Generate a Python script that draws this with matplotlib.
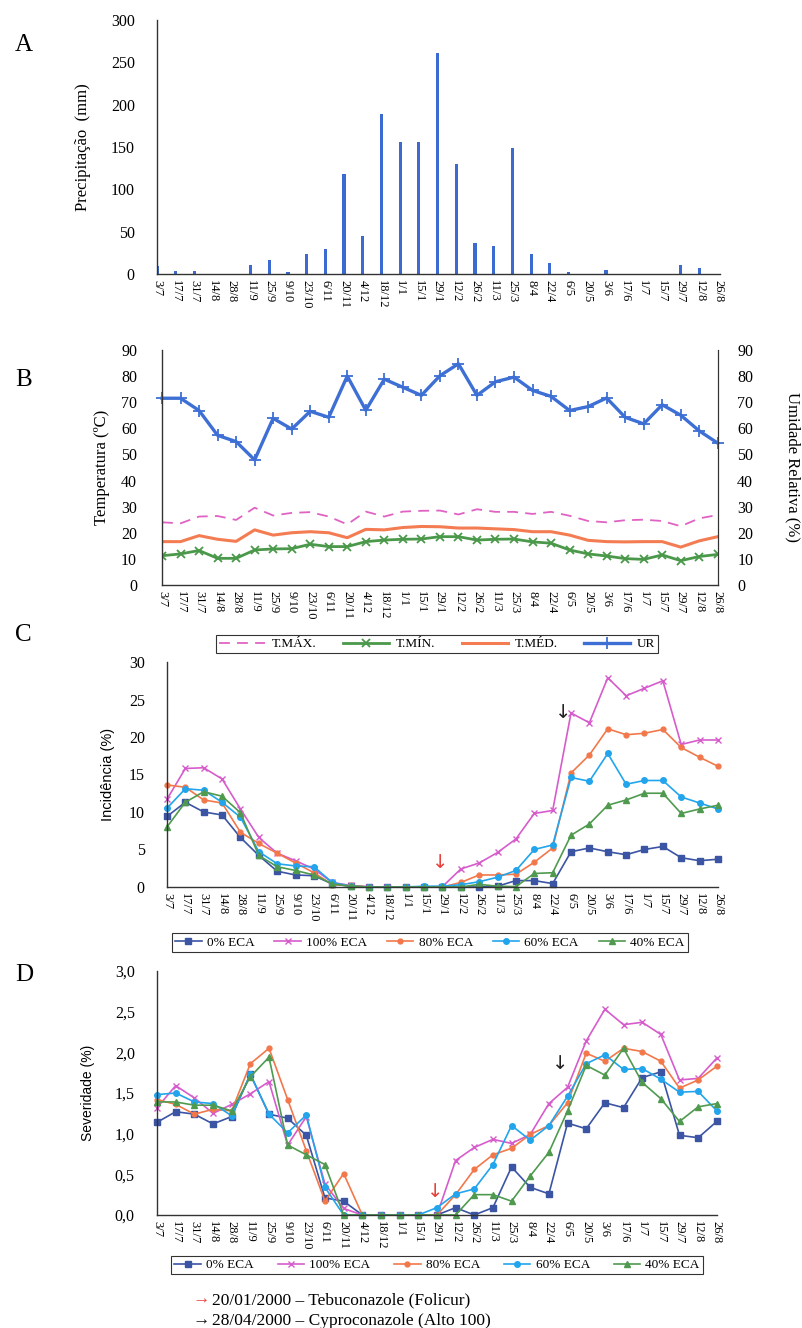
import matplotlib
matplotlib.use('Agg')
import matplotlib.pyplot as plt
import numpy as np
from matplotlib.ticker import FuncFormatter

plt.rcParams['font.family'] = ['Liberation Serif', 'DejaVu Serif']

# dates (biweekly sampling)
datas = ['3/7', '17/7', '31/7', '14/8', '28/8', '11/9', '25/9', '9/10', '23/10', '6/11',
         '20/11', '4/12', '18/12', '1/1', '15/1', '29/1', '12/2', '26/2', '11/3', '25/3',
         '8/4', '22/4', '6/5', '20/5', '3/6', '17/6', '1/7', '15/7', '29/7', '12/8', '26/8']

# A - precipitation (mm)
precip = [9, 4, 3, 0, 0, 10, 16, 2, 23, 30, 118, 45, 189, 156, 156, 261, 130, 37, 33, 149,
          24, 13, 2, 0, 5, 0, 0, 0, 11, 7, 0]

# B - temperature and relative humidity
ur = [71.5, 71.5, 66.8, 57.3, 54.9, 47.9, 63.8, 59.7, 66.5, 64.2, 80.0, 66.9, 78.8, 75.7, 72.6,
      80.1, 84.7, 72.6, 77.8, 79.6, 74.5, 72.2, 66.8, 68.3, 71.6, 64.2, 61.7, 69.0, 65.0, 59.0, 54.3]
t_max = [24.0, 23.6, 26.2, 26.4, 24.9, 29.6, 26.6, 27.6, 27.9, 26.2, 23.2, 28.1, 26.2, 28.1, 28.4,
         28.5, 27.0, 29.0, 28.0, 28.0, 27.2, 28.0, 26.5, 24.5, 24.0, 24.8, 25.0, 24.5, 22.5, 25.5, 26.8]
t_med = [16.6, 16.6, 18.9, 17.5, 16.7, 21.1, 19.1, 20.0, 20.4, 20.0, 18.1, 21.3, 21.1, 22.0, 22.4,
         22.3, 21.8, 21.8, 21.5, 21.2, 20.4, 20.4, 19.1, 17.1, 16.6, 16.5, 16.6, 16.6, 14.5, 16.9, 18.5]
t_min = [11.2, 11.9, 13.2, 10.2, 10.2, 13.4, 13.8, 13.9, 15.6, 14.7, 14.7, 16.6, 17.2, 17.5, 17.6,
         18.5, 18.5, 17.2, 17.5, 17.6, 16.5, 16.0, 13.4, 11.9, 11.1, 10.1, 9.8, 11.5, 9.3, 10.9, 11.7]

# C - incidence (%)
inc_0 = [9.4, 11.3, 10.0, 9.6, 6.6, 4.2, 2.1, 1.6, 1.5, 0.4, 0.1, 0, 0, 0, 0, 0, 0, 0, 0.1, 0.85,
         0.85, 0.45, 4.7, 5.2, 4.7, 4.3, 5.0, 5.4, 3.9, 3.5, 3.7]
inc_100 = [11.7, 15.8, 15.9, 14.4, 10.4, 6.6, 4.5, 3.5, 2.4, 0.6, 0.2, 0, 0, 0, 0, 0.05, 2.4, 3.2,
           4.6, 6.4, 9.8, 10.2, 23.2, 21.9, 27.9, 25.5, 26.5, 27.5, 19.0, 19.6, 19.6]
inc_80 = [13.6, 13.3, 11.6, 11.2, 7.3, 5.8, 4.5, 3.2, 1.9, 0.3, 0.2, 0, 0, 0, 0, 0, 0.6, 1.6, 1.6,
          1.7, 3.3, 5.2, 15.2, 17.6, 21.1, 20.3, 20.5, 21.0, 18.6, 17.3, 16.1]
inc_60 = [10.5, 13.1, 12.9, 11.3, 9.3, 4.7, 3.1, 2.8, 2.7, 0.6, 0.1, 0, 0, 0, 0.1, 0.1, 0.3, 0.7,
          1.3, 2.2, 5.0, 5.6, 14.6, 14.1, 17.8, 13.7, 14.2, 14.2, 12.0, 11.2, 10.4]
inc_40 = [8.0, 11.3, 12.7, 12.1, 9.9, 4.2, 2.7, 2.2, 1.6, 0.4, 0.1, 0, 0, 0, 0, 0, 0, 0.35, 0.1,
          0.05, 1.8, 1.9, 6.9, 8.4, 10.9, 11.6, 12.5, 12.5, 9.8, 10.4, 10.9]

# D - severity (%)
sev_0 = [1.14, 1.27, 1.24, 1.12, 1.21, 1.73, 1.24, 1.19, 0.98, 0.21, 0.17, 0, 0, 0, 0, 0, 0.09, 0,
         0.09, 0.59, 0.34, 0.26, 1.13, 1.06, 1.38, 1.32, 1.69, 1.76, 0.98, 0.95, 1.15]
sev_100 = [1.32, 1.59, 1.44, 1.25, 1.36, 1.49, 1.64, 0.86, 1.21, 0.38, 0.08, 0, 0, 0, 0, 0, 0.67,
           0.83, 0.93, 0.88, 0.99, 1.37, 1.57, 2.14, 2.53, 2.34, 2.37, 2.22, 1.66, 1.68, 1.93]
sev_80 = [1.42, 1.36, 1.24, 1.30, 1.28, 1.86, 2.05, 1.42, 0.79, 0.17, 0.51, 0, 0, 0, 0, 0, 0.25,
          0.56, 0.74, 0.82, 0.99, 1.10, 1.38, 1.99, 1.89, 2.05, 2.01, 1.89, 1.56, 1.66, 1.83]
sev_60 = [1.48, 1.50, 1.39, 1.37, 1.22, 1.73, 1.24, 1.01, 1.23, 0.34, 0, 0, 0, 0, 0, 0.09, 0.26,
          0.32, 0.62, 1.10, 0.92, 1.10, 1.46, 1.86, 1.97, 1.79, 1.80, 1.67, 1.51, 1.52, 1.28]
sev_40 = [1.39, 1.39, 1.35, 1.35, 1.28, 1.70, 1.94, 0.86, 0.74, 0.62, 0, 0, 0, 0, 0, 0, 0, 0.25,
          0.25, 0.17, 0.48, 0.77, 1.28, 1.84, 1.72, 2.05, 1.63, 1.43, 1.15, 1.33, 1.37]

trat_labels = ['0% ECA', '100% ECA', '80% ECA', '60% ECA', '40% ECA']

# application dates (position on the date axis)
aplic_1 = 14.9   # 20/01/2000
aplic_2 = 21.6   # 28/04/2000

x = np.arange(len(datas))

C_DARK = '#3b54a3'
C_PINK = '#d65ccc'
C_ORNG = '#f2784b'
C_LBLU = '#22a5ec'
C_GREN = '#4f9a4f'
SPINE = '#333333'


def base_axes(ax, x_right=30.0):
    ax.set_xlim(0, x_right)
    ax.set_xticks(x)
    ax.set_xticklabels(datas, rotation=270, fontsize=9)
    ax.tick_params(axis='x', length=0, pad=4)
    ax.tick_params(axis='y', length=0, labelsize=11.5)
    for s in ['top', 'right']:
        ax.spines[s].set_visible(False)
    for s in ['left', 'bottom']:
        ax.spines[s].set_color(SPINE)
        ax.spines[s].set_linewidth(1.0)


def treat_lines(ax, series):
    styles = [(C_DARK, 's', 4.0), (C_PINK, 'x', 4.5), (C_ORNG, 'o', 3.5),
              (C_LBLU, 'o', 4.0), (C_GREN, '^', 4.5)]
    handles = []
    for vals, (col, mk, ms), lab in zip(series, styles, trat_labels):
        h, = ax.plot(x, vals, color=col, marker=mk, ms=ms, lw=1.2,
                     mew=1.0, label=lab, clip_on=False)
        handles.append(h)
    return handles


fig = plt.figure(figsize=(8.02, 13.28), dpi=100)

# ---- A
axA = fig.add_axes([0.1958, 0.7937, 0.702, 0.1913])
axA.bar(x, precip, width=0.17, color='#3b6bd0')
base_axes(axA, 30.1)
axA.set_ylim(0, 300)
axA.set_yticks(range(0, 301, 50))
axA.tick_params(axis='y', pad=16)
axA.set_ylabel('Precipitação  (mm)', fontsize=12, labelpad=14)

# ---- B
axB = fig.add_axes([0.202, 0.5595, 0.693, 0.177])
base_axes(axB)
axB.spines['right'].set_visible(True)
axB.spines['right'].set_color(SPINE)
axB.plot(x, t_max, color='#e063c4', lw=1.3, ls=(0, (6, 4)), label='T.MÁX.')
axB.plot(x, t_min, color='#4a984a', lw=2.0, marker='x', ms=6, mew=1.3, label='T.MÍN.')
axB.plot(x, t_med, color='#f47c52', lw=2.2, label='T.MÉD.')
axB.plot(x, ur, color='#3d6fd4', lw=2.4, marker='+', ms=8, mew=1.3, label='UR', clip_on=False)
axB.set_ylim(0, 90)
axB.set_yticks(range(0, 91, 10))
axB.tick_params(axis='y', pad=18)
axB.set_ylabel('Temperatura (ºC)', fontsize=12, labelpad=8)
axB2 = axB.twinx()
axB2.set_ylim(0, 90)
axB2.set_yticks(range(0, 91, 10))
axB2.tick_params(axis='y', length=0, labelsize=11.5, pad=14)
for s in ['top', 'left', 'bottom']:
    axB2.spines[s].set_visible(False)
axB2.spines['right'].set_color(SPINE)
axB2.set_ylabel('Umidade Relativa (%)', fontsize=12, rotation=270, labelpad=34)
legB = fig.legend(*axB.get_legend_handles_labels(), loc='center', ncol=4,
                  bbox_to_anchor=(0.545, 0.515), fontsize=9.5, frameon=True, fancybox=False,
                  edgecolor='black', handlelength=3.5, columnspacing=2.0, borderpad=0.25,
                  handletextpad=0.5)
legB.get_frame().set_linewidth(0.8)

# ---- C
axC = fig.add_axes([0.2082, 0.3321, 0.687, 0.1694])
base_axes(axC)
hC = treat_lines(axC, [inc_0, inc_100, inc_80, inc_60, inc_40])
axC.set_ylim(0, 30)
axC.set_yticks(range(0, 31, 5))
axC.tick_params(axis='y', pad=16)
axC.set_ylabel('Incidência (%)', fontsize=10.5, family=['Liberation Sans', 'DejaVu Sans'],
               labelpad=10)
axC.text(aplic_1, 3.3, '↓', color='#e8403a', fontsize=14, ha='center', va='center',
         family=['DejaVu Sans'])
axC.text(aplic_2, 23.3, '↓', color='#222222', fontsize=14, ha='center', va='center',
         family=['DejaVu Sans'])
legC = fig.legend(hC, trat_labels, loc='center', ncol=5, bbox_to_anchor=(0.536, 0.290),
                  fontsize=9.5, frameon=True, fancybox=False, edgecolor='black',
                  handlelength=2.0, columnspacing=1.5, borderpad=0.25, handletextpad=0.4)
legC.get_frame().set_linewidth(0.8)

# ---- D
axD = fig.add_axes([0.1958, 0.0851, 0.698, 0.1837])
base_axes(axD)
hD = treat_lines(axD, [sev_0, sev_100, sev_80, sev_60, sev_40])
axD.set_ylim(0, 3.0)
axD.set_yticks(np.arange(0, 3.01, 0.5))
axD.yaxis.set_major_formatter(FuncFormatter(lambda v, p: f'{v:.1f}'.replace('.', ',')))
axD.tick_params(axis='y', pad=16)
axD.set_ylabel('Severidade (%)', fontsize=10, family=['Liberation Sans', 'DejaVu Sans'],
               labelpad=14)
axD.text(aplic_1, 0.29, '↓', color='#e8403a', fontsize=14, ha='center', va='center',
         family=['DejaVu Sans'])
axD.text(aplic_2, 1.86, '↓', color='#222222', fontsize=14, ha='center', va='center',
         family=['DejaVu Sans'])
legD = fig.legend(hD, trat_labels, loc='center', ncol=5, bbox_to_anchor=(0.545, 0.0474),
                  fontsize=9.5, frameon=True, fancybox=False, edgecolor='black',
                  handlelength=2.0, columnspacing=1.8, borderpad=0.25, handletextpad=0.4)
legD.get_frame().set_linewidth(0.8)

# panel letters
for lab, yy in zip(['A', 'B', 'C', 'D'], [45, 380, 635, 975]):
    fig.text(15 / 802, 1 - yy / 1328, lab, fontsize=18, ha='left', va='center')

# application notes
fig.text(193 / 802, 1 - 1300 / 1328, '→', color='#e8403a', fontsize=12.5, va='center')
fig.text(212 / 802, 1 - 1300 / 1328, '20/01/2000 – Tebuconazole (Folicur)', fontsize=12.5,
         va='center')
fig.text(193 / 802, 1 - 1321 / 1328, '→', color='#111111', fontsize=12.5, va='center')
fig.text(212 / 802, 1 - 1321 / 1328, '28/04/2000 – Cyproconazole (Alto 100)', fontsize=12.5,
         va='center')

fig.savefig('out.png', dpi=100)
